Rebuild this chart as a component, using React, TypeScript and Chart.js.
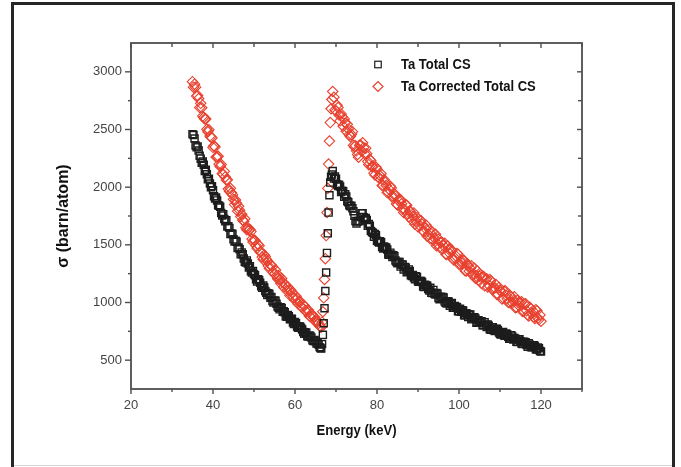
import React, { useEffect, useRef } from "react";
import { Chart, registerables } from "chart.js";

Chart.register(...registerables);

// ---------- data ----------
const energy = [
  35, 35.25, 35.5, 35.75, 36, 36.25, 36.5, 36.75,
  37, 37.25, 37.5, 37.75, 38, 38.25, 38.5, 38.75,
  39, 39.25, 39.5, 39.75, 40, 40.25, 40.5, 40.75,
  41, 41.25, 41.5, 41.75, 42, 42.25, 42.5, 42.75,
  43, 43.25, 43.5, 43.75, 44, 44.25, 44.5, 44.75,
  45, 45.25, 45.5, 45.75, 46, 46.25, 46.5, 46.75,
  47, 47.25, 47.5, 47.75, 48, 48.25, 48.5, 48.75,
  49, 49.25, 49.5, 49.75, 50, 50.25, 50.5, 50.75,
  51, 51.25, 51.5, 51.75, 52, 52.25, 52.5, 52.75,
  53, 53.25, 53.5, 53.75, 54, 54.25, 54.5, 54.75,
  55, 55.25, 55.5, 55.75, 56, 56.25, 56.5, 56.75,
  57, 57.25, 57.5, 57.75, 58, 58.25, 58.5, 58.75,
  59, 59.25, 59.5, 59.75, 60, 60.25, 60.5, 60.75,
  61, 61.25, 61.5, 61.75, 62, 62.25, 62.5, 62.75,
  63, 63.25, 63.5, 63.75, 64, 64.25, 64.5, 64.75,
  65, 65.25, 65.5, 65.75,
  66,
  66.2, 66.4, 66.6, 66.8, 67, 67.2, 67.4, 67.6, 67.8, 68, 68.2, 68.4, 68.6, 68.8, 69, 69.2,
  69.5, 69.75,
  70, 70.25, 70.5, 70.75, 71, 71.25, 71.5, 71.75,
  72, 72.25, 72.5, 72.75, 73, 73.25, 73.5, 73.75,
  74, 74.25, 74.5, 74.75, 75, 75.25, 75.5, 75.75,
  76, 76.25, 76.5, 76.75, 77, 77.25, 77.5, 77.75,
  78, 78.25, 78.5, 78.75, 79, 79.25, 79.5, 79.75,
  80, 80.25, 80.5, 80.75, 81, 81.25, 81.5, 81.75,
  82, 82.25, 82.5, 82.75, 83, 83.25, 83.5, 83.75,
  84, 84.25, 84.5, 84.75, 85, 85.25, 85.5, 85.75,
  86, 86.25, 86.5, 86.75, 87, 87.25, 87.5, 87.75,
  88, 88.25, 88.5, 88.75, 89, 89.25, 89.5, 89.75,
  90, 90.25, 90.5, 90.75, 91, 91.25, 91.5, 91.75,
  92, 92.25, 92.5, 92.75, 93, 93.25, 93.5, 93.75,
  94, 94.25, 94.5, 94.75, 95, 95.25, 95.5, 95.75,
  96, 96.25, 96.5, 96.75, 97, 97.25, 97.5, 97.75,
  98, 98.25, 98.5, 98.75, 99, 99.25, 99.5, 99.75,
  100, 100.25, 100.5, 100.75, 101, 101.25, 101.5, 101.75,
  102, 102.25, 102.5, 102.75, 103, 103.25, 103.5, 103.75,
  104, 104.25, 104.5, 104.75, 105, 105.25, 105.5, 105.75,
  106, 106.25, 106.5, 106.75, 107, 107.25, 107.5, 107.75,
  108, 108.25, 108.5, 108.75, 109, 109.25, 109.5, 109.75,
  110, 110.25, 110.5, 110.75, 111, 111.25, 111.5, 111.75,
  112, 112.25, 112.5, 112.75, 113, 113.25, 113.5, 113.75,
  114, 114.25, 114.5, 114.75, 115, 115.25, 115.5, 115.75,
  116, 116.25, 116.5, 116.75, 117, 117.25, 117.5, 117.75,
  118, 118.25, 118.5, 118.75, 119, 119.25, 119.5, 119.75,
  120,
];

const totalCS = [
  2460, 2452, 2422, 2361, 2345, 2352, 2317, 2272,
  2247, 2212, 2223, 2194, 2140, 2151, 2112, 2068,
  2074, 2032, 2000, 2009, 1973, 1921, 1902, 1910,
  1885, 1844, 1838, 1831, 1776, 1754, 1766, 1724,
  1704, 1713, 1659, 1662, 1647, 1594, 1599, 1593,
  1548, 1529, 1535, 1526, 1472, 1477, 1462, 1419,
  1434, 1419, 1381, 1354, 1346, 1365, 1338, 1303,
  1314, 1270, 1260, 1274, 1246, 1237, 1202, 1183,
  1202, 1194, 1171, 1141, 1128, 1148, 1130, 1099,
  1085, 1064, 1080, 1073, 1042, 1047, 1012, 1000,
  1017, 1015, 989, 965, 955, 941, 959, 952,
  920, 925, 915, 880, 877, 892, 881, 854,
  857, 860, 827, 813, 830, 820, 791, 781,
  791, 791, 778, 766, 744, 730, 742, 738,
  708, 705, 713, 710, 696, 673, 665, 676,
  664, 644, 648, 636,
  613,
  605, 600, 640, 720, 820, 950, 1100, 1260, 1430, 1600, 1780, 1930, 2040, 2090, 2110, 2140,
  2075, 2092,
  2073, 2026, 2010, 2020, 2005, 1958, 1970, 1964,
  1917, 1938, 1919, 1878, 1869, 1842, 1834, 1838,
  1817, 1791, 1753, 1706, 1685, 1703, 1706, 1707,
  1742, 1775, 1774, 1740, 1723, 1732, 1715, 1665,
  1681, 1666, 1621, 1612, 1604, 1570, 1593, 1584,
  1536, 1528, 1521, 1531, 1522, 1481, 1469, 1485,
  1475, 1478, 1460, 1416, 1414, 1432, 1414, 1395,
  1410, 1401, 1364, 1351, 1340, 1352, 1351, 1311,
  1328, 1330, 1287, 1307, 1303, 1263, 1269, 1287,
  1273, 1237, 1229, 1239, 1217, 1202, 1228, 1221,
  1181, 1180, 1186, 1187, 1177, 1138, 1135, 1154,
  1147, 1146, 1117, 1104, 1127, 1084, 1083, 1109,
  1078, 1070, 1083, 1077, 1038, 1028, 1051, 1045,
  1047, 1043, 1008, 998, 992, 1010, 1006, 972,
  986, 996, 954, 955, 969, 959, 961, 924,
  924, 945, 919, 932, 930, 889, 889, 906,
  901, 874, 894, 895, 854, 861, 868, 873,
  862, 825, 830, 847, 826, 831, 838, 802,
  803, 829, 808, 788, 809, 798, 769, 763,
  784, 786, 759, 753, 771, 773, 760, 740,
  727, 723, 736, 744, 714, 712, 732, 724,
  702, 686, 688, 716, 706, 678, 692, 686,
  660, 658, 678, 681, 665, 645, 639, 660,
  658, 656, 632, 617, 647, 634, 614, 611,
  613, 630, 624, 595, 592, 609, 603, 580,
  576,
];

const correctedCS = [
  2915, 2867, 2893, 2867, 2790, 2794, 2768, 2690,
  2727, 2689, 2616, 2604, 2591, 2591, 2502, 2480,
  2498, 2443, 2434, 2427, 2345, 2359, 2348, 2261,
  2262, 2268, 2199, 2180, 2196, 2118, 2110, 2137,
  2089, 2062, 2064, 1984, 1964, 1990, 1951, 1935,
  1894, 1849, 1888, 1861, 1793, 1834, 1799, 1745,
  1765, 1715, 1704, 1726, 1648, 1631, 1648, 1629,
  1633, 1615, 1550, 1524, 1543, 1538, 1493, 1471,
  1503, 1493, 1438, 1439, 1394, 1373, 1411, 1398,
  1374, 1361, 1317, 1294, 1326, 1324, 1311, 1262,
  1246, 1281, 1232, 1206, 1234, 1195, 1166, 1208,
  1178, 1132, 1161, 1147, 1104, 1135, 1107, 1062,
  1106, 1086, 1050, 1040, 1020, 1055, 1035, 988,
  1005, 1008, 965, 955, 980, 971, 931, 920,
  932, 935, 884, 877, 901, 887, 873, 874,
  839, 825, 835, 819,
  798,
  790, 785, 830, 920, 1040, 1200, 1380, 1580, 1780, 1990, 2200, 2400, 2560, 2680, 2760, 2830,
  2780, 2670,
  2660, 2710, 2690, 2625, 2575, 2635, 2610, 2529,
  2592, 2556, 2485, 2545, 2505, 2455, 2440, 2456,
  2481, 2363, 2350, 2360, 2315, 2283, 2260, 2363,
  2365, 2313, 2385, 2343, 2290, 2338, 2290, 2223,
  2195, 2240, 2230, 2180, 2179, 2122, 2105, 2173,
  2156, 2089, 2081, 2099, 2116, 2014, 2016, 2064,
  2042, 2015, 1953, 1957, 1980, 2009, 1992, 1926,
  1904, 1943, 1922, 1856, 1845, 1885, 1895, 1891,
  1856, 1811, 1781, 1807, 1847, 1843, 1768, 1744,
  1795, 1781, 1716, 1747, 1777, 1678, 1704, 1736,
  1657, 1673, 1713, 1709, 1679, 1620, 1611, 1643,
  1669, 1575, 1591, 1632, 1553, 1595, 1611, 1538,
  1559, 1591, 1492, 1509, 1551, 1478, 1520, 1522,
  1464, 1491, 1513, 1420, 1417, 1489, 1461, 1424,
  1461, 1449, 1381, 1369, 1386, 1404, 1426, 1419,
  1332, 1334, 1361, 1339, 1366, 1364, 1276, 1274,
  1332, 1320, 1272, 1295, 1318, 1241, 1249, 1298,
  1211, 1229, 1272, 1195, 1228, 1241, 1164, 1217,
  1225, 1144, 1197, 1206, 1134, 1152, 1200, 1188,
  1116, 1115, 1123, 1127, 1156, 1069, 1072, 1131,
  1109, 1093, 1031, 1040, 1099, 1103, 1062, 1032,
  1001, 1000, 1059, 1048, 997, 1016, 1050, 955,
  959, 1019, 998, 968, 997, 1007, 921, 926,
  985, 990, 929, 894, 883, 958, 947, 907,
  927, 872, 862, 938, 928, 863, 852, 892,
  837,
];

const seriesLabels = ["Ta Total CS", "Ta Corrected Total CS"];
const xMajorTicks = [20, 40, 60, 80, 100, 120];
const xMinorTicks = [30, 50, 70, 90, 110, 130];
const yMajorTicks = [500, 1000, 1500, 2000, 2500, 3000];
const yMinorTicks = [750, 1250, 1750, 2250, 2750];
const xTitle = "Energy (keV)";
const yTitle = "\u03c3 (barn/atom)";

// ---------- styles ----------
const FONT = '"Liberation Sans", Arial, Helvetica, sans-serif';
const BLACK = "#1c1c1c";
const RED = "#e8412f";
const AXIS = "#4e4e4e";

const decorPlugin = {
  id: "decor",
  afterDraw(chart: any) {
    const { ctx, chartArea: a, scales } = chart;
    const xs = scales.x;
    const ys = scales.y;
    ctx.save();
    ctx.strokeStyle = AXIS;
    ctx.lineWidth = 1.8;
    ctx.strokeRect(a.left, a.top, a.right - a.left, a.bottom - a.top);
    ctx.lineWidth = 1.4;
    const seg = (x1: number, y1: number, x2: number, y2: number) => {
      ctx.beginPath();
      ctx.moveTo(x1, y1);
      ctx.lineTo(x2, y2);
      ctx.stroke();
    };
    xMajorTicks.forEach((v) => {
      const p = xs.getPixelForValue(v);
      seg(p, a.bottom, p, a.bottom + 5);
      seg(p, a.top, p, a.top + 5);
    });
    xMinorTicks.forEach((v) => {
      const p = xs.getPixelForValue(v);
      seg(p, a.bottom, p, a.bottom + 3);
      seg(p, a.top, p, a.top + 4);
    });
    yMajorTicks.forEach((v) => {
      const p = ys.getPixelForValue(v);
      seg(a.left - 6, p, a.left, p);
      seg(a.right, p, a.right - 5, p);
    });
    yMinorTicks.forEach((v) => {
      const p = ys.getPixelForValue(v);
      seg(a.left - 3, p, a.left, p);
      seg(a.right, p, a.right - 4, p);
    });

    // legend
    const lx = a.left + 247;
    const ly1 = a.top + 21.5;
    const ly2 = a.top + 43.5;
    ctx.lineWidth = 1.2;
    ctx.strokeStyle = BLACK;
    ctx.strokeRect(lx - 3.25, ly1 - 3.25, 6.5, 6.5);
    ctx.strokeStyle = RED;
    ctx.beginPath();
    ctx.moveTo(lx - 5, ly2);
    ctx.lineTo(lx, ly2 - 5);
    ctx.lineTo(lx + 5, ly2);
    ctx.lineTo(lx, ly2 + 5);
    ctx.closePath();
    ctx.stroke();

    ctx.fillStyle = "#111";
    ctx.font = `bold 14px ${FONT}`;
    ctx.textBaseline = "middle";
    ctx.textAlign = "left";
    [ly1, ly2].forEach((yy, i) => {
      ctx.save();
      ctx.translate(lx + 23, yy + 0.5);
      ctx.scale(0.93, 1);
      ctx.fillText(seriesLabels[i], 0, 0);
      ctx.restore();
    });

    // x title
    ctx.save();
    ctx.textAlign = "center";
    ctx.textBaseline = "alphabetic";
    ctx.translate((a.left + a.right) / 2, a.bottom + 46);
    ctx.scale(0.935, 1);
    ctx.fillText(xTitle, 0, 0);
    ctx.restore();

    // y title
    ctx.save();
    ctx.font = `bold 16px ${FONT}`;
    ctx.textAlign = "center";
    ctx.textBaseline = "middle";
    ctx.translate(64, (a.top + a.bottom) / 2);
    ctx.rotate(-Math.PI / 2);
    ctx.fillText(yTitle, 0, 0);
    ctx.restore();

    ctx.restore();
  },
};

export default function App() {
  const ref = useRef<HTMLCanvasElement | null>(null);

  useEffect(() => {
    if (!ref.current) return;
    const mk = (vals: number[]) => energy.map((e, i) => ({ x: e, y: vals[i] }));
    const chart = new Chart(ref.current, {
      type: "scatter",
      data: {
        datasets: [
          {
            label: seriesLabels[0],
            data: mk(totalCS),
            pointStyle: "rect",
            pointRadius: 5,
            borderColor: BLACK,
            backgroundColor: "rgba(0,0,0,0)",
            borderWidth: 1.4,
            showLine: false,
          },
          {
            label: seriesLabels[1],
            data: mk(correctedCS),
            pointStyle: "rectRot",
            pointRadius: 5.2,
            borderColor: RED,
            backgroundColor: "rgba(0,0,0,0)",
            borderWidth: 1.1,
            showLine: false,
          },
        ],
      },
      options: {
        responsive: false,
        animation: false,
        devicePixelRatio: 1,
        events: [],
        layout: { padding: { left: 0, right: 99, top: 43, bottom: 48 } },
        plugins: {
          legend: { display: false },
          tooltip: { enabled: false },
          title: { display: false },
        },
        scales: {
          x: {
            type: "linear",
            min: 20,
            max: 130,
            afterFit: (s: any) => {
              s.height = 30;
            },
            grid: { display: false, drawTicks: false },
            border: { display: false },
            ticks: {
              stepSize: 10,
              autoSkip: false,
              maxRotation: 0,
              padding: 9,
              color: "#444",
              font: { family: FONT, size: 13 },
              callback: (v: any) => (xMajorTicks.includes(Number(v)) ? String(v) : ""),
            },
          },
          y: {
            type: "linear",
            min: 250,
            max: 3250,
            afterFit: (s: any) => {
              s.width = 131;
            },
            grid: { display: false, drawTicks: false },
            border: { display: false },
            ticks: {
              stepSize: 250,
              autoSkip: false,
              padding: 9,
              color: "#444",
              font: { family: FONT, size: 13 },
              callback: (v: any) => (yMajorTicks.includes(Number(v)) ? String(v) : ""),
            },
          },
        },
      },
      plugins: [decorPlugin],
    });
    return () => chart.destroy();
  }, []);

  return (
    <div
      style={{
        position: "absolute",
        left: 0,
        top: 0,
        width: 681,
        height: 467,
        background: "#fff",
        overflow: "hidden",
      }}
    >
      <canvas ref={ref} width={681} height={467} style={{ position: "absolute", left: 0, top: 0 }} />
      <div
        style={{
          position: "absolute",
          left: 11,
          top: 2,
          width: 664,
          height: 490,
          boxSizing: "border-box",
          border: "3px solid #262626",
          pointerEvents: "none",
        }}
      />
      <div
        style={{
          position: "absolute",
          left: 14,
          top: 465,
          width: 658,
          height: 1,
          background: "#d6d6d6",
        }}
      />
    </div>
  );
}
